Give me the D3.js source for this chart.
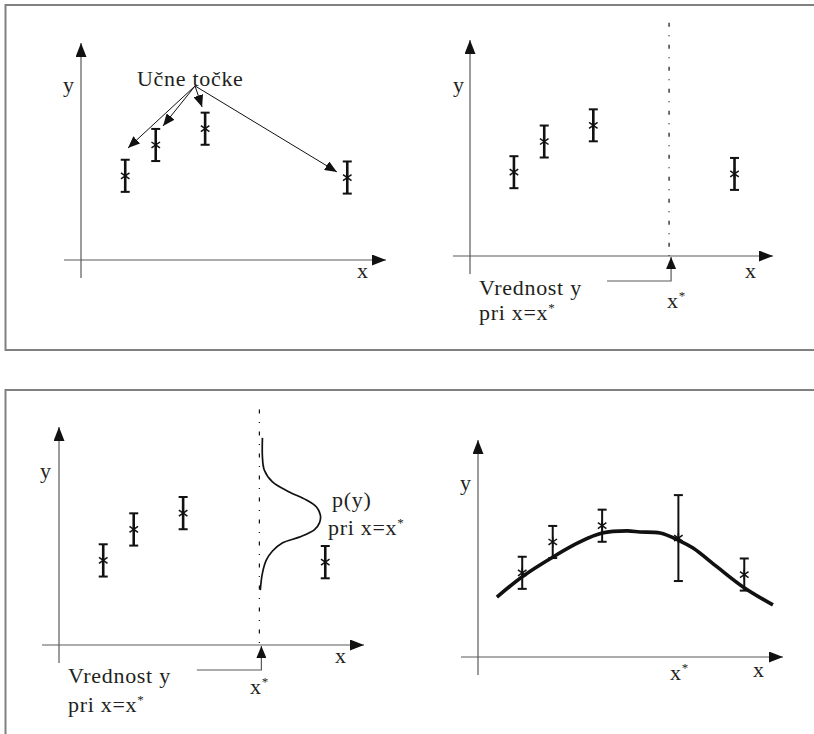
<!DOCTYPE html>
<html>
<head>
<meta charset="utf-8">
<script src="https://cdn.jsdelivr.net/npm/d3@7/dist/d3.min.js"></script>
<style>
  html, body { margin: 0; padding: 0; background: #fff; }
  svg { display: block; }
</style>
</head>
<body>
<svg id="chart" width="814" height="734"></svg>
<script>
// Training points (shared by all four diagrams), in axis units 0..10
const trainX   = [1.45, 2.45, 4.07, 8.73];
const trainY   = [3.88, 5.30, 6.05, 3.80];
const trainErr = [0.74, 0.74, 0.74, 0.74];

// Query location and the prediction made there
const xStar   = 6.57;
const predY   = 5.48;
const predErr = 1.98;

// Fitted mean curve (bottom-right diagram)
const fitX = [0.62, 1.44, 2.46, 3.34, 4.07, 4.89, 5.31, 5.97, 6.56, 7.05, 7.84, 8.69, 9.67];
const fitY = [2.76, 3.69, 4.61, 5.30, 5.71, 5.81, 5.76, 5.71, 5.39, 5.02, 4.15, 3.23, 2.40];

// Predictive density p(y) at x = x* (bottom-left diagram)
const densY = [9.50, 8.62, 8.03, 7.48, 7.02, 6.65, 6.33, 5.96, 5.60, 5.28, 4.95, 4.68, 4.31, 3.90, 3.30, 2.52];
const densP = [0.10, 0.10, 0.16, 0.43, 0.98, 1.54, 1.87, 2.00, 1.97, 1.80, 1.31, 0.75, 0.43, 0.23, 0.10, 0.03];

// "Učne točke" annotation: label anchor and arrow targets
const noteFrom    = [3.74, 8.02];
const noteTargetX = [1.54, 2.69, 3.97, 8.39];
const noteTargetY = [5.16, 6.18, 7.05, 4.06];

// Text labels
const axisLabelX = "x";
const axisLabelY = "y";
const noteLabel  = "Učne točke";
const valueLine1 = "Vrednost y";
const valueLine2 = "pri x=x";
const densLabel1 = "p(y)";
const densLabel2 = "pri x=x";

const FONT = "'Liberation Serif', 'Times New Roman', Times, 'DejaVu Serif', serif";
const svg = d3.select("#chart");
const ink = "#111";
const textInk = "#231f20";
const axisGray = "#5a5a5a";

function label(g, x, y, size) {
  return g.append("text").attr("x", x).attr("y", y)
    .attr("font-family", FONT).attr("font-size", size || 22)
    .attr("letter-spacing", 0.7).attr("fill", textInk);
}

// Arrowhead markers
const defs = svg.append("defs");
function marker(id, len, half) {
  defs.append("marker")
    .attr("id", id)
    .attr("markerUnits", "userSpaceOnUse")
    .attr("markerWidth", len).attr("markerHeight", half * 2)
    .attr("refX", len).attr("refY", half)
    .attr("orient", "auto")
    .append("path")
    .attr("d", `M0,0 L${len},${half} L0,${half * 2} Z`)
    .attr("fill", ink);
}
marker("axisHead", 14, 5.5);
marker("noteHead", 12, 5);
marker("linkHead", 12, 5);

// Outer frames
svg.append("rect").attr("x", 5.5).attr("y", 5).attr("width", 900).attr("height", 345)
  .attr("fill", "none").attr("stroke", "#808080").attr("stroke-width", 2);
svg.append("rect").attr("x", 5.5).attr("y", 390).attr("width", 900).attr("height", 400)
  .attr("fill", "none").attr("stroke", "#808080").attr("stroke-width", 2);

// Panel layout: origin and arrow tips of the axes
const panels = [
  { ox: 81,  oy: 260, xt: 386, yt: 43,  yLab: [63, 92],  xLab: [357, 278] },
  { ox: 470, oy: 256, xt: 773, yt: 40,  yLab: [453, 92], xLab: [745, 278] },
  { ox: 59,  oy: 645, xt: 364, yt: 427, yLab: [40, 478], xLab: [335, 663] },
  { ox: 478, oy: 657, xt: 783, yt: 440, yLab: [460, 490], xLab: [753, 677] }
];
panels.forEach(p => {
  p.x = d3.scaleLinear().domain([0, 10]).range([p.ox, p.xt]);
  p.y = d3.scaleLinear().domain([0, 10]).range([p.oy, p.yt]);
  p.g = svg.append("g");
});

function drawAxes(p) {
  p.g.append("line")
    .attr("x1", p.ox - 17).attr("y1", p.oy).attr("x2", p.xt).attr("y2", p.oy)
    .attr("stroke", axisGray).attr("stroke-width", 1.2)
    .attr("marker-end", "url(#axisHead)");
  p.g.append("line")
    .attr("x1", p.ox).attr("y1", p.oy + 18).attr("x2", p.ox).attr("y2", p.yt)
    .attr("stroke", axisGray).attr("stroke-width", 1.2)
    .attr("marker-end", "url(#axisHead)");
  label(p.g, p.yLab[0], p.yLab[1]).text(axisLabelY);
  label(p.g, p.xLab[0], p.xLab[1]).text(axisLabelX);
}

function drawPoint(p, xv, yv, ev, width) {
  const cx = p.x(xv), top = p.y(yv + ev), bot = p.y(yv - ev), cy = p.y(yv);
  const g = p.g.append("g").attr("stroke", ink);
  g.append("line").attr("x1", cx).attr("x2", cx).attr("y1", top).attr("y2", bot)
    .attr("stroke-width", width);
  [top, bot].forEach(v => g.append("line")
    .attr("x1", cx - 4.5).attr("x2", cx + 4.5).attr("y1", v).attr("y2", v)
    .attr("stroke-width", 2));
  // asterisk marker
  [90, 35, -35].forEach(a => {
    const r = a * Math.PI / 180, dx = 5.2 * Math.cos(r), dy = 5.2 * Math.sin(r);
    g.append("line").attr("x1", cx - dx).attr("x2", cx + dx)
      .attr("y1", cy - dy).attr("y2", cy + dy).attr("stroke-width", 1.5);
  });
}

function drawTraining(p) {
  trainX.forEach((xv, i) => drawPoint(p, xv, trainY[i], trainErr[i], 2.6));
}

function starText(t, s) {
  t.append("tspan").text(s);
  t.append("tspan").attr("dy", -8).attr("font-size", 13).text("*");
}

function xStarLabel(p, x, y) {
  starText(label(p.g, x, y), "x");
}

function dashDot(p) {
  p.g.append("line")
    .attr("x1", p.x(xStar)).attr("x2", p.x(xStar))
    .attr("y1", p.y(10.8)).attr("y2", p.oy)
    .attr("stroke", ink).attr("stroke-width", 1.2)
    .attr("stroke-dasharray", "4,8.5,1,8.5");
}

function valueLink(p, l1, l2) {
  const xs = p.x(xStar);
  p.g.append("path")
    .attr("d", `M${p.x(4.52)},${p.oy + 25} H${xs + 2} V${p.oy + 1}`)
    .attr("fill", "none").attr("stroke", axisGray).attr("stroke-width", 1.2)
    .attr("marker-end", "url(#linkHead)");
  label(p.g, p.ox + 9, l1).text(valueLine1);
  starText(label(p.g, p.ox + 9, l2), valueLine2);
}

// Panel 1: training points with annotation
const p1 = panels[0];
drawAxes(p1);
drawTraining(p1);
label(p1.g, 137, 86).text(noteLabel);
noteTargetX.forEach((tx, i) => {
  p1.g.append("line")
    .attr("x1", p1.x(noteFrom[0])).attr("y1", p1.y(noteFrom[1]))
    .attr("x2", p1.x(tx)).attr("y2", p1.y(noteTargetY[i]))
    .attr("stroke", ink).attr("stroke-width", 1)
    .attr("marker-end", "url(#noteHead)");
});

// Panel 2: query location x*
const p2 = panels[1];
drawAxes(p2);
dashDot(p2);
drawTraining(p2);
valueLink(p2, 295, 320);
xStarLabel(p2, 667, 308);

// Panel 3: predictive density at x*
const p3 = panels[2];
drawAxes(p3);
dashDot(p3);
drawTraining(p3);
const densLine = d3.line()
  .x((d, i) => p3.x(xStar + densP[i]))
  .y((d, i) => p3.y(densY[i]))
  .curve(d3.curveCatmullRom.alpha(0.5));
p3.g.append("path").datum(densY).attr("d", densLine)
  .attr("fill", "none").attr("stroke", ink).attr("stroke-width", 1.7);
label(p3.g, 332, 507).text(densLabel1);
starText(label(p3.g, 328, 535), densLabel2);
valueLink(p3, 683, 712);
xStarLabel(p3, 250, 694);

// Panel 4: fitted curve with prediction at x*
const p4 = panels[3];
drawAxes(p4);
const fitLine = d3.line()
  .x((d, i) => p4.x(fitX[i]))
  .y((d, i) => p4.y(fitY[i]))
  .curve(d3.curveCatmullRom.alpha(0.5));
p4.g.append("path").datum(fitX).attr("d", fitLine)
  .attr("fill", "none").attr("stroke", ink).attr("stroke-width", 3.6);
trainX.forEach((xv, i) => drawPoint(p4, xv, trainY[i], trainErr[i], 2));
drawPoint(p4, xStar, predY, predErr, 2);
xStarLabel(p4, 670, 680);
</script>
</body>
</html>
